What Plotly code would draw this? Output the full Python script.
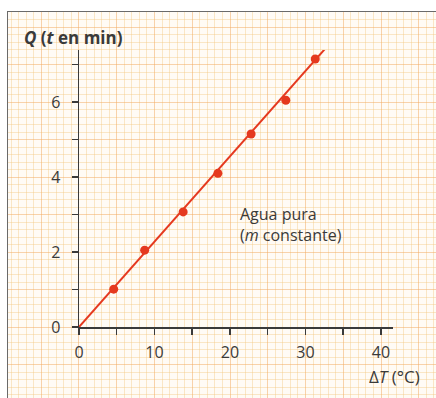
import plotly.graph_objects as go

# Data
delta_T = [4.6, 8.7, 13.8, 18.4, 22.8, 27.4, 31.3]
Q_min = [1.01, 2.05, 3.07, 4.1, 5.15, 6.05, 7.15]
fit_T = [0, 34.7]
fit_Q = [0, 7.9]

x_tickvals = [0, 5, 10, 15, 20, 25, 30, 35, 40]
x_ticktext = ["0", "", "10", "", "20", "", "30", "", "40"]
y_tickvals = [0, 1, 2, 3, 4, 5, 6, 7]
y_ticktext = ["0", "", "2", "", "4", "", "6", ""]

W, H = 436, 398
RED = "#e5391f"
INK = "#3a3a3a"
FONT = "Open Sans, Noto Sans, sans-serif"

fig = go.Figure()

fig.add_trace(go.Scatter(x=[None], y=[None], mode="markers", xaxis="x", yaxis="y",
                         showlegend=False, hoverinfo="skip"))
fig.add_trace(go.Scatter(x=fit_T, y=fit_Q, mode="lines",
                         line=dict(color=RED, width=2),
                         xaxis="x2", yaxis="y2", showlegend=False, hoverinfo="skip"))
fig.add_trace(go.Scatter(x=delta_T, y=Q_min, mode="markers",
                         marker=dict(color=RED, size=9),
                         xaxis="x2", yaxis="y2", showlegend=False))

def px(x):
    return x / W

def py(y):
    return 1 - y / H

MAJOR = "rgba(242,170,95,0.50)"
MINOR = "rgba(244,200,130,0.42)"

fig.update_layout(
    template="none",
    width=W, height=H,
    margin=dict(l=0, r=0, t=0, b=0, pad=0),
    paper_bgcolor="#fffbf5",
    plot_bgcolor="rgba(0,0,0,0)",
    font=dict(family=FONT, color=INK),
    showlegend=False,
    xaxis=dict(domain=[px(8), 1], range=[-9.40, 47.28], tick0=0, dtick=5, automargin=False,
               showgrid=True, gridcolor=MAJOR, gridwidth=1,
               minor=dict(dtick=1, showgrid=True, gridcolor=MINOR, gridwidth=1),
               showticklabels=False, ticks="", zeroline=False, anchor="y",
               showline=True, side="top", linecolor="#6a6a6a", linewidth=1.5, fixedrange=True),
    yaxis=dict(domain=[0, py(12)], range=[-1.893, 8.4], tick0=0, dtick=1, automargin=False,
               showgrid=True, gridcolor=MAJOR, gridwidth=1,
               minor=dict(dtick=0.2, showgrid=True, gridcolor=MINOR, gridwidth=1),
               showticklabels=False, ticks="", zeroline=False, anchor="x",
               showline=True, linecolor="#6a6a6a", linewidth=1.5, fixedrange=True),
    xaxis2=dict(domain=[px(79), px(393)], anchor="y2", range=[0, 41.6], automargin=False,
                tickmode="array", tickvals=x_tickvals, ticktext=x_ticktext,
                ticks="outside", ticklen=6, tickwidth=1.5, tickcolor=INK,
                showline=True, linecolor=INK, linewidth=1.5,
                showgrid=False, zeroline=False, ticklabelstandoff=4,
                tickfont=dict(size=16, color=INK, family=FONT)),
    yaxis2=dict(domain=[py(327), py(50)], anchor="x2", range=[0, 7.39], automargin=False,
                tickmode="array", tickvals=y_tickvals, ticktext=y_ticktext,
                ticks="outside", ticklen=6, tickwidth=1.5, tickcolor=INK,
                showline=True, linecolor=INK, linewidth=1.5,
                showgrid=False, zeroline=False, ticklabelstandoff=8,
                tickfont=dict(size=16, color=INK, family=FONT)),
)

fig.add_shape(type="rect", xref="paper", yref="paper", x0=-0.1, x1=1.1, y0=py(12), y1=1.1,
              fillcolor="white", line=dict(width=0), layer="below")
fig.add_shape(type="rect", xref="paper", yref="paper", x0=-0.1, x1=px(8), y0=-0.1, y1=1.1,
              fillcolor="white", line=dict(width=0), layer="below")

fig.add_annotation(xref="paper", yref="paper", x=px(22), y=py(38), xanchor="left", yanchor="middle",
                   text="<b><i>Q</i> (<i>t</i> en min)</b>", showarrow=False,
                   font=dict(size=17, color=INK, family=FONT))
fig.add_annotation(xref="paper", yref="paper", x=px(422), y=py(376), xanchor="right", yanchor="middle",
                   text="Δ<i>T</i> (°C)", showarrow=False,
                   font=dict(size=17, color=INK, family=FONT))
fig.add_annotation(xref="paper", yref="paper", x=px(238), y=py(225), xanchor="left", yanchor="middle",
                   text="Agua pura<br>(<i>m</i> constante)", showarrow=False, align="left",
                   font=dict(size=16, color=INK, family=FONT))

fig.write_html(
    "out.html",
    config={"displayModeBar": False, "staticPlot": True},
    post_script=(
        "document.documentElement.style.margin='0';"
        "document.documentElement.style.overflow='hidden';"
        "document.body.style.margin='0';"
        "document.body.style.overflow='hidden';"
    ),
)
